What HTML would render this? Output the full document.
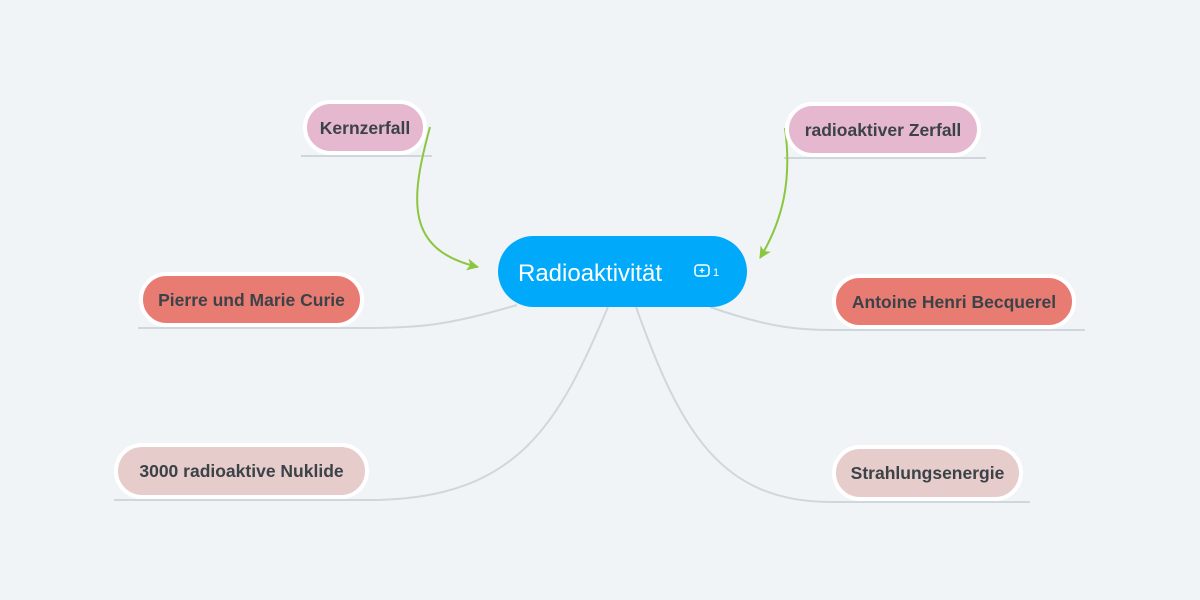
<!DOCTYPE html>
<html><head><meta charset="utf-8"><style>
html,body{margin:0;padding:0;background:#f0f4f7;}
svg{display:block;}
text{font-family:"Liberation Sans",sans-serif;font-weight:bold;fill:#3b4248;font-size:17.5px;}
</style></head><body>
<svg width="1200" height="600" viewBox="0 0 1200 600">
<defs>
<marker id="ar" markerWidth="14" markerHeight="14" refX="11" refY="6" orient="auto" markerUnits="userSpaceOnUse">
<path d="M0,0 L12,6 L0,12 L3,6 Z" fill="#8cc63f"/>
</marker>
</defs>
<g fill="none" stroke="#d0d7dc" stroke-width="2">
<path d="M517,305 C450,325 420,328 365,328 L138,328"/>
<path d="M710,307 C770,328 800,330 831,330 L1085,330"/>
<path d="M608,307 C560,420 520,500 370,500 L114,500"/>
<path d="M636,307 C680,430 720,502 831,502 L1030,502"/>
<path d="M301,156 L432,156"/>
<path d="M784,158 L986,158"/>
</g>
<g fill="none" stroke="#8cc63f" stroke-width="2">
<path d="M430,127 C410,200 405,250 478,267" marker-end="url(#ar)"/>
<path d="M785,128 C792,180 783,220 760,258" marker-end="url(#ar)"/>
</g>
<rect x="498" y="236" width="249" height="71" rx="35.5" fill="#00a9fa"/>
<text x="518" y="281" style="fill:#fff;font-weight:normal;font-size:24px">Radioaktivität</text>
<rect x="695" y="265" width="14" height="11" rx="3" fill="none" stroke="#fff" stroke-width="1.5"/>
<path d="M702,268 v5 M699.5,270.5 h5" stroke="#fff" stroke-width="1.3"/>
<text x="713" y="276" style="fill:#fff;font-weight:normal;font-size:11px">1</text>
<g stroke="#fff" stroke-width="4">
<rect x="305" y="102" width="120" height="51" rx="25.5" fill="#e6b8d0"/>
<rect x="787" y="104" width="192" height="51" rx="25.5" fill="#e6b8d0"/>
<rect x="141" y="274" width="221" height="51" rx="25.5" fill="#e87c73"/>
<rect x="834" y="276" width="240" height="51" rx="25.5" fill="#e87c73"/>
<rect x="116" y="445" width="251" height="52" rx="26" fill="#e6cccb"/>
<rect x="834" y="447" width="187" height="52" rx="26" fill="#e6cccb"/>
</g>
<text x="365" y="134" text-anchor="middle">Kernzerfall</text>
<text x="883" y="136" text-anchor="middle">radioaktiver Zerfall</text>
<text x="251.5" y="306" text-anchor="middle">Pierre und Marie Curie</text>
<text x="954" y="308" text-anchor="middle">Antoine Henri Becquerel</text>
<text x="241.5" y="477" text-anchor="middle">3000 radioaktive Nuklide</text>
<text x="927.5" y="479" text-anchor="middle">Strahlungsenergie</text>
</svg>
</body></html>
